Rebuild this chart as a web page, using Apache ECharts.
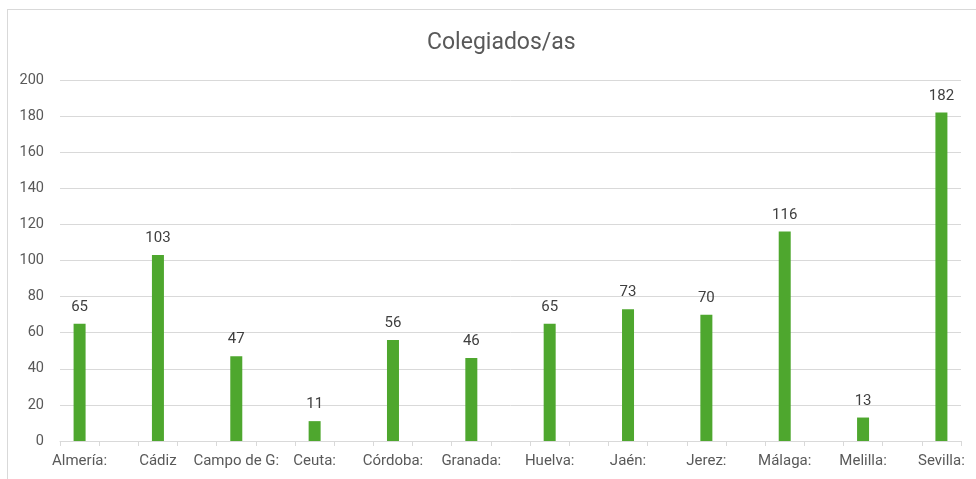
<!DOCTYPE html>
<html><head><meta charset="utf-8">
<script src="https://cdn.jsdelivr.net/npm/echarts@6/dist/echarts.min.js"></script>
<style>
html,body{margin:0;padding:0;background:#fff;}
#frame{position:absolute;left:7px;top:9px;width:975px;height:480px;border:1px solid #d9d9d9;box-sizing:border-box;}
#c{position:absolute;left:0;top:0;width:976px;height:479px;}
</style></head>
<body>
<div id="frame"></div>
<div id="c"></div>
<script>
const categories = ["Almería:", "", "Cádiz", "", "Campo de G:", "", "Ceuta:", "", "Córdoba:", "", "Granada:", "", "Huelva:", "", "Jaén:", "", "Jerez:", "", "Málaga:", "", "Melilla:", "", "Sevilla:"];
const values = [65, null, 103, null, 47, null, 11, null, 56, null, 46, null, 65, null, 73, null, 70, null, 116, null, 13, null, 182];
const yTicks = {min: 0, max: 200, interval: 20};
const titleText = "Colegiados/as";

const chart = echarts.init(document.getElementById('c'));
const font = "Roboto, 'Open Sans', sans-serif";
chart.setOption({
  animation: false,
  title: {text: titleText, left: 422, top: 27, textStyle: {fontFamily: font, fontSize: 23, fontWeight: 'normal', color: '#595959'}},
  grid: {left: 60, right: 15, top: 80, bottom: 38},
  xAxis: {
    type: 'category', data: categories,
    axisLine: {lineStyle: {color: '#d9d9d9'}},
    axisTick: {show: true, interval: 0, length: 5, lineStyle: {color: '#d9d9d9'}},
    axisLabel: {interval: 0, margin: 13, fontFamily: font, fontSize: 15, color: '#595959'}
  },
  yAxis: {
    type: 'value', min: yTicks.min, max: yTicks.max, interval: yTicks.interval,
    axisLine: {show: false}, axisTick: {show: false},
    axisLabel: {margin: 16, fontFamily: font, fontSize: 14.5, color: '#595959'},
    splitLine: {lineStyle: {color: '#d9d9d9'}}
  },
  series: [{
    type: 'bar', data: values, barWidth: 12,
    itemStyle: {color: '#4ea72e'},
    label: {show: true, position: 'top', distance: 9, fontFamily: font, fontSize: 15, color: '#404040'}
  }]
});
</script>
</body></html>
